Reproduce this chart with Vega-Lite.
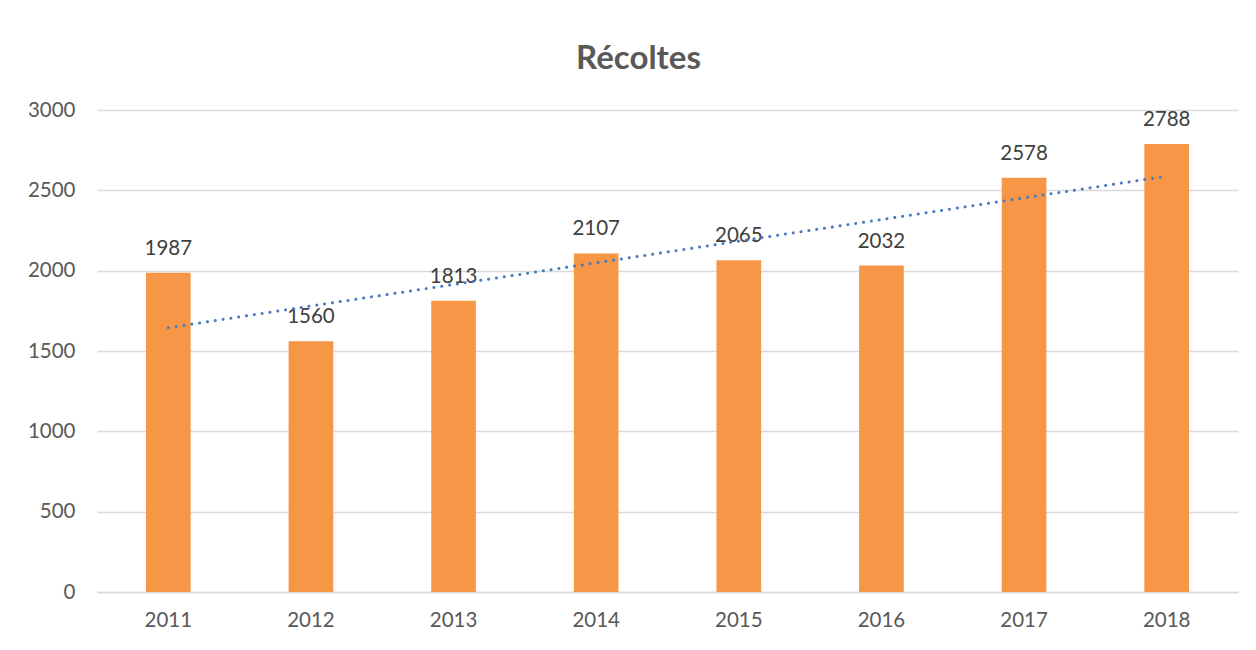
{
  "$schema": "https://vega.github.io/schema/vega-lite/v6.json",
  "width": 1141,
  "height": 482,
  "autosize": {"type": "none"},
  "padding": {"left": 97, "top": 110, "right": 18, "bottom": 58},
  "background": "white",
  "title": {
    "text": "Récoltes",
    "font": "Lato",
    "fontSize": 33,
    "fontWeight": "bold",
    "color": "#595959",
    "anchor": "middle",
    "baseline": "alphabetic",
    "offset": 43,
    "dx": -29,
    "dy": 45
  },
  "data": {
    "values": [
      {"annee": "2011", "recolte": 1987, "tendance": 1645},
      {"annee": "2012", "recolte": 1560, "tendance": 1780},
      {"annee": "2013", "recolte": 1813, "tendance": 1914},
      {"annee": "2014", "recolte": 2107, "tendance": 2049},
      {"annee": "2015", "recolte": 2065, "tendance": 2184},
      {"annee": "2016", "recolte": 2032, "tendance": 2318},
      {"annee": "2017", "recolte": 2578, "tendance": 2453},
      {"annee": "2018", "recolte": 2788, "tendance": 2588}
    ]
  },
  "encoding": {
    "x": {
      "field": "annee",
      "type": "ordinal",
      "title": null,
      "scale": {"paddingInner": 0.687, "paddingOuter": 0.3435},
      "axis": {
        "labelAngle": 0,
        "labelFont": "Lato",
        "labelFontSize": 20.5,
        "labelColor": "#595959",
        "labelPadding": 18,
        "ticks": false,
        "domainColor": "#D9D9D9",
        "domainWidth": 1.5,
        "grid": false
      }
    }
  },
  "layer": [
    {
      "mark": {"type": "bar", "color": "#F79646"},
      "encoding": {
        "y": {
          "field": "recolte",
          "type": "quantitative",
          "title": null,
          "scale": {"domain": [0, 3000], "nice": false},
          "axis": {
            "values": [0, 500, 1000, 1500, 2000, 2500, 3000],
            "format": "d",
            "labelFont": "Lato",
            "labelFontSize": 20.5,
            "labelColor": "#595959",
            "labelPadding": 22,
            "ticks": false,
            "domain": false,
            "gridColor": "#D9D9D9",
            "gridWidth": 1.5
          }
        }
      }
    },
    {
      "mark": {"type": "text", "font": "Lato", "fontSize": 20.5, "color": "#404040", "baseline": "alphabetic", "dy": -18},
      "encoding": {
        "y": {"field": "recolte", "type": "quantitative"},
        "text": {"field": "recolte", "type": "quantitative", "format": "d"}
      }
    },
    {
      "mark": {"type": "line", "color": "#4A7DBF", "strokeWidth": 3, "strokeCap": "round", "strokeDash": [0.1, 7.8]},
      "encoding": {
        "y": {"field": "tendance", "type": "quantitative"}
      }
    }
  ],
  "config": {"view": {"stroke": null}}
}
